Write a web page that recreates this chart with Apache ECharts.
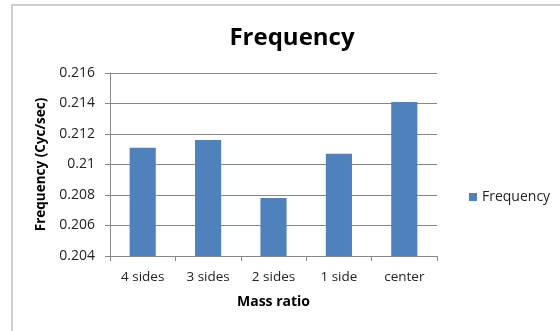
<!DOCTYPE html>
<html><head><meta charset="utf-8">
<script src="https://cdn.jsdelivr.net/npm/echarts@6/dist/echarts.min.js"></script>
<style>html,body{margin:0;padding:0;background:#fff}#c{width:560px;height:331px}</style>
</head><body><div id="c"></div>
<script>
const categories = ['4 sides', '3 sides', '2 sides', '1 side', 'center'];
const frequency = [0.2111, 0.2116, 0.2078, 0.2107, 0.2141];
const seriesName = 'Frequency';
const chart = echarts.init(document.getElementById('c'), null, {renderer: 'canvas'});
const font = '"Open Sans", "Liberation Sans", sans-serif';
chart.setOption({
  animation: false,
  textStyle: {fontFamily: font},
  graphic: [{type: 'rect', shape: {x: 12, y: 5, width: 600, height: 400},
    style: {fill: 'none', stroke: '#c0c0c0', lineWidth: 1.5}, silent: true}],
  title: {text: 'Frequency', left: 287, top: 21, textAlign: 'center',
    textStyle: {fontFamily: font, fontSize: 24, fontWeight: 'bold', color: '#000'}},
  legend: {data: [seriesName], left: 464, top: 185, itemWidth: 8, itemHeight: 8, itemGap: 5,
    icon: 'rect', textStyle: {fontFamily: font, fontSize: 14, color: '#222'}},
  grid: {left: 110, top: 73, width: 327, height: 183, containLabel: false},
  xAxis: {type: 'category', data: categories, name: 'Mass ratio', nameLocation: 'middle', nameGap: 39,
    nameTextStyle: {fontFamily: font, fontSize: 14, fontWeight: 'bold', color: '#000'},
    axisLine: {lineStyle: {color: '#868686'}},
    axisTick: {show: true, length: 5, lineStyle: {color: '#868686'}},
    axisLabel: {fontSize: 13.5, color: '#222', margin: 14}},
  yAxis: {type: 'value', min: 0.204, max: 0.216, interval: 0.002,
    name: 'Frequency (Cyc/sec)', nameLocation: 'middle', nameGap: 57, nameRotate: 90,
    nameTextStyle: {fontFamily: font, fontSize: 13.5, fontWeight: 'bold', color: '#000'},
    axisLine: {show: true, lineStyle: {color: '#868686'}},
    axisTick: {show: true, length: 5, lineStyle: {color: '#868686'}},
    axisLabel: {fontSize: 14, color: '#222', margin: 15,
      formatter: v => String(parseFloat(v.toFixed(3)))},
    splitLine: {lineStyle: {color: '#868686'}}},
  series: [{name: seriesName, type: 'bar', data: frequency, barWidth: '40%',
    itemStyle: {color: '#4f81bd'}}]
});
</script></body></html>
